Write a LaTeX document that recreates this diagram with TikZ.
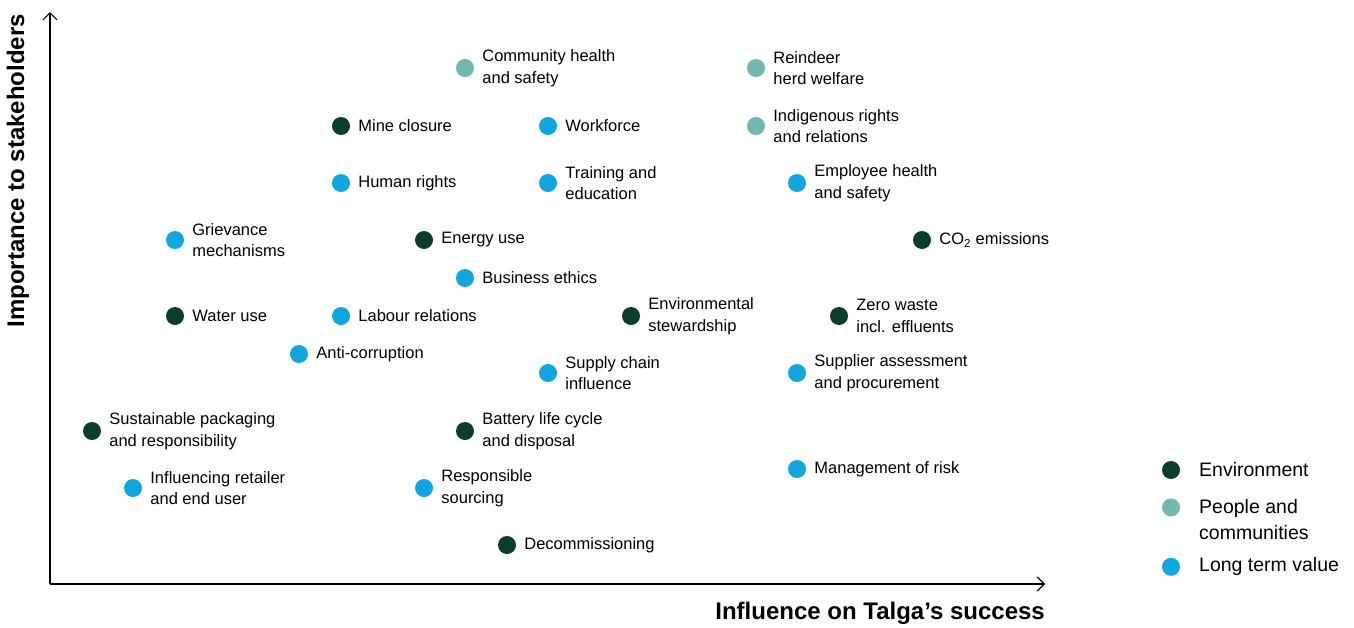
\documentclass[tikz,border=0pt]{standalone}
\usepackage{fontspec}
\setmainfont{Liberation Sans}
\usetikzlibrary{arrows.meta,positioning}
\definecolor{envgreen}{HTML}{0B3D2E}
\definecolor{peopleteal}{HTML}{72B8B0}
\definecolor{valueblue}{HTML}{12A6E0}
\tikzset{
matrixchart/.style={x=1pt,y=-1pt,
every node/.style={font=\fontsize{16.5}{21.5}\selectfont},
every label/.style={inner sep=0pt,align=left,
font=\fontsize{16.5}{21.5}\selectfont},
label distance=8pt},
topic/.style={circle,inner sep=0pt,minimum size=18pt},
env/.style={topic,fill=envgreen},
people/.style={topic,fill=peopleteal},
value/.style={topic,fill=valueblue},
axis/.style={-{Straight Barb[length=7pt,width=14pt]},line width=1.2pt},
axis label/.style={inner sep=0pt,font=\fontsize{24}{28}\selectfont\bfseries},
legend text/.style={inner sep=0pt,align=left,font=\fontsize{19.5}{26}\selectfont},
}
\begin{document}
\begin{tikzpicture}[matrixchart]
\useasboundingbox (0,0) rectangle (1354,627);
% axes
\coordinate (origin) at (50,584);
\coordinate (ytip) at (50,12);
\coordinate (xtip) at (1045,584);
\draw[axis] (origin) -- (ytip);
\draw[axis] (origin) -- (xtip);
\node[axis label,rotate=90,anchor=east] (ylab) at (18,14) {Importance to stakeholders};
\node[axis label,anchor=east] (xlab) at (1045,613) {Influence on Talga’s success};

% topics
\node[people] (community) at (465,68) [label=right:{Community health\\and safety}] {};
\node[people] (reindeer) at (756,68) [label=right:{Reindeer\\herd welfare}] {};
\node[env] (mine) at (341,126) [label=right:Mine closure] {};
\node[value] (workforce) at (548,126) [label=right:Workforce] {};
\node[people] (indigenous) at (756,126) [label=right:{Indigenous rights\\and relations}] {};
\node[value] (human) at (341,183) [label=right:Human rights] {};
\node[value] (training) at (548,183) [label=right:{Training and\\education}] {};
\node[value] (employee) at (797,183) [label=right:{Employee health\\and safety}] {};
\node[value] (grievance) at (175,240) [label=right:{Grievance\\mechanisms}] {};
\node[env] (energy) at (424,240) [label=right:Energy use] {};
\node[env] (co2) at (922,240) [label=right:{CO\textsubscript{2} emissions}] {};
\node[value] (ethics) at (465,278) [label=right:Business ethics] {};
\node[env] (water) at (175,316) [label=right:Water use] {};
\node[value] (labour) at (341,316) [label=right:Labour relations] {};
\node[env] (stewardship) at (631,316) [label=right:{Environmental\\stewardship}] {};
\node[env] (waste) at (839,316) [label=right:{Zero waste\\incl. effluents}] {};
\node[value] (corruption) at (299,354) [label=right:Anti-corruption] {};
\node[value] (supply) at (548,373) [label=right:{Supply chain\\influence}] {};
\node[value] (supplier) at (797,373) [label=right:{Supplier assessment\\and procurement}] {};
\node[env] (packaging) at (92,431) [label=right:{Sustainable packaging\\and responsibility}] {};
\node[env] (battery) at (465,431) [label=right:{Battery life cycle\\and disposal}] {};
\node[value] (retailer) at (133,488) [label=right:{Influencing retailer\\and end user}] {};
\node[value] (sourcing) at (424,488) [label=right:{Responsible\\sourcing}] {};
\node[value] (risk) at (797,469) [label=right:Management of risk] {};
\node[env] (decommission) at (507,545) [label=right:Decommissioning] {};

% legend
\node[env] (legenv) at (1171,470) {};
\node[people,below=19pt of legenv] (legpeople) {};
\node[value,below=41pt of legpeople] (legvalue) {};
\node[legend text,anchor=west] (legenvtext) at (1199,470) {Environment};
\node[legend text,anchor=west] (legpeopletext) at (1199,520) {People and\\communities};
\node[legend text,anchor=west] (legvaluetext) at (1199,566) {Long term value};
\end{tikzpicture}
\end{document}
